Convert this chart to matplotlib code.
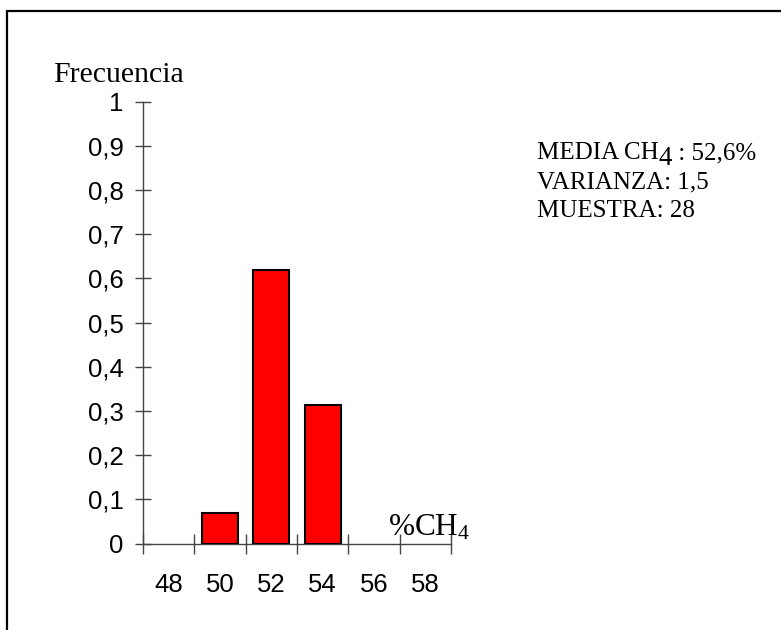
import matplotlib
matplotlib.use("Agg")
import matplotlib.pyplot as plt
from matplotlib.patches import Rectangle

categories = ['48', '50', '52', '54', '56', '58']
frecuencia = [0.0, 0.068, 0.618, 0.313, 0.0, 0.0]
y_ticks = [0, 0.1, 0.2, 0.3, 0.4, 0.5, 0.6, 0.7, 0.8, 0.9, 1.0]
y_tick_labels = ['0', '0,1', '0,2', '0,3', '0,4', '0,5', '0,6', '0,7', '0,8', '0,9', '1']
stats_lines = ['VARIANZA: 1,5', 'MUESTRA: 28']

plt.rcParams['mathtext.fontset'] = 'custom'
plt.rcParams['mathtext.rm'] = 'Liberation Serif'
plt.rcParams['mathtext.it'] = 'Liberation Serif:italic'

W, H = 781, 630
fig = plt.figure(figsize=(W / 100, H / 100), dpi=100)

# outer frame (cut off at right and bottom)
fig.patches.append(Rectangle((7.5 / W, -0.05), 1.2, (H - 11) / H + 0.05,
                             transform=fig.transFigure, fill=False,
                             edgecolor='black', linewidth=1.6))

ax = fig.add_axes([143 / W, 86.5 / H, 308 / W, 442 / H])
x = list(range(len(categories)))
bx = [i for i, v in zip(x, frecuencia) if v > 0]
bv = [v for v in frecuencia if v > 0]
ax.bar(bx, bv, width=0.7, color='#ff0000', edgecolor='black', linewidth=1.5, zorder=3)

ax.set_xlim(-0.5, len(categories) - 0.5)
ax.set_ylim(0, 1)
for s in ['top', 'right']:
    ax.spines[s].set_visible(False)
for s in ['left', 'bottom']:
    ax.spines[s].set_color('#444444')
    ax.spines[s].set_linewidth(1.0)

tick_fs = 18.5
ax.set_yticks(y_ticks)
ax.set_yticklabels(y_tick_labels, fontfamily='Liberation Sans', fontsize=tick_fs)
ax.tick_params(axis='y', direction='inout', length=12, width=1.0, color='#444444', pad=8)

ax.set_xticks([i - 0.5 for i in range(len(categories) + 1)])
ax.set_xticklabels([])
ax.tick_params(axis='x', which='major', direction='inout', length=14, width=1.0, color='#444444')
ax.set_xticks(x, minor=True)
ax.set_xticklabels(categories, minor=True, fontfamily='Liberation Sans', fontsize=tick_fs)
ax.tick_params(axis='x', which='minor', length=0, pad=21)

fig.text(53 / W, 1 - 82 / H, 'Frecuencia', fontfamily='Liberation Serif', fontsize=21.5,
         ha='left', va='baseline')
fig.text(388 / W, 1 - 535 / H, r'%CH$_4$', fontfamily='Liberation Serif', fontsize=22.5,
         ha='left', va='baseline')

# stats block
fs = 18
t1 = fig.text(537 / W, 1 - 159 / H, 'MEDIA CH', fontfamily='Liberation Serif', fontsize=fs,
              ha='left', va='baseline')
fig.canvas.draw()
r = fig.canvas.get_renderer()
bb = t1.get_window_extent(r)
t2 = fig.text(bb.x1 / W, 1 - 165 / H, '4', fontfamily='Liberation Serif', fontsize=fs * 1.08,
              ha='left', va='baseline')
bb2 = t2.get_window_extent(r)
fig.text(bb2.x1 / W, 1 - 159 / H, ' : 52,6%', fontfamily='Liberation Serif', fontsize=fs,
         ha='left', va='baseline')
for i, line in enumerate(stats_lines):
    fig.text(537 / W, 1 - (188 + 29 * i) / H, line, fontfamily='Liberation Serif', fontsize=fs,
             ha='left', va='baseline')

fig.savefig('out.png', dpi=100)
